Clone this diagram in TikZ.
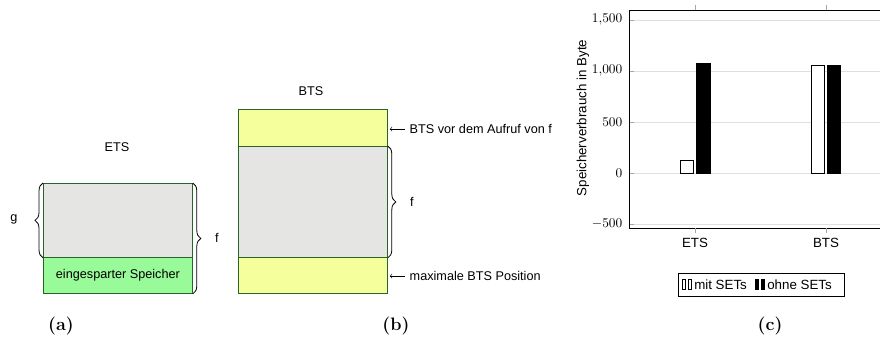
\documentclass[tikz,border=0pt]{standalone}
\usepackage{fontspec}
\setsansfont{Liberation Sans}
\usepackage{amsmath}
\usetikzlibrary{decorations.pathreplacing}

\definecolor{memline}{RGB}{40,100,40}
\definecolor{memgray}{RGB}{229,230,227}
\definecolor{memgreen}{RGB}{153,250,153}
\definecolor{memyellow}{RGB}{245,255,156}

\tikzset{
  memblock/.style={draw=memline, line width=0.6pt, inner sep=0pt, anchor=north west, minimum width=111.75pt},
  frameblock/.style={memblock, fill=memgray},
  freeblock/.style={memblock, fill=memgreen},
  btsblock/.style={memblock, fill=memyellow},
  lbl/.style={font=\sffamily\fontsize{9.5}{11}\selectfont},
  chartlbl/.style={font=\sffamily},
  membrace/.style={decorate, decoration={brace, amplitude=6pt}, line width=0.6pt},
  gridline/.style={gray!25, line width=0.6pt},
  tickmark/.style={gray!70, line width=0.5pt},
  barmit/.style={draw=black, fill=white, line width=0.6pt},
  barohne/.style={draw=black, fill=black, line width=0.6pt},
  subcap/.style={font=\bfseries\fontsize{13.5}{15}\selectfont}
}

\begin{document}
\begin{tikzpicture}[x=0.75pt, y=0.75pt]
\useasboundingbox (0,0) rectangle (880,-336);

% (a) ETS
\node (etsTitle) [lbl] at (117,-147) {ETS};
\node (etsGray) [frameblock, minimum height=55.5pt] at (43,-183) {};
\node (etsFree) [freeblock, minimum height=27pt, lbl] at (43,-257) {eingesparter Speicher};
\draw [membrace] (etsGray.south west) -- (etsGray.north west);
\node (gLbl) [lbl] at (14,-219) {g};
\draw [membrace] (etsGray.north east) -- (etsFree.south east);
\node (fLbl) [lbl] at (217,-238) {f};

% (b) BTS
\node (btsTitle) [lbl] at (311,-91) {BTS};
\node (btsTop) [btsblock, minimum height=27.75pt] at (238,-109) {};
\node (btsGray) [frameblock, minimum height=83.25pt] at (238,-146) {};
\node (btsBottom) [btsblock, minimum height=27pt] at (238,-257) {};
\node (vorLbl) [lbl, anchor=west] at (405,-129) {BTS vor dem Aufruf von f};
\draw [->, shorten >=1.5pt] (vorLbl.west) -- (vorLbl.west -| btsTop.east);
\node (maxLbl) [lbl, anchor=west] at (405,-276) {maximale BTS Position};
\draw [->, shorten >=1.5pt] (maxLbl.west) -- (maxLbl.west -| btsBottom.east);
\draw [membrace] (btsGray.north east) -- (btsGray.south east);
\node (fLblB) [lbl] at (412,-202) {f};

% (c) Speicherverbrauch
\begin{scope}[shift={(0,-173)}, y=0.0765pt]
\foreach \v/\t in {-500/{$-500$}, 0/{$0$}, 500/{$500$}, 1000/{$1{,}000$}, 1500/{$1{,}500$}} {
  \draw [gridline] (629,\v) -- (880,\v);
  \draw [tickmark] (629,\v) -- (634,\v);
  \node (ytick\v) [anchor=east] at (627,\v) {\t};
}
\draw [black, line width=0.6pt] (880,1598) -- (629,1598) -- (629,-539) -- (880,-539);
\foreach \x/\n in {695/ETS, 826/BTS} {
  \draw [tickmark] (\x,1598) -- (\x,1650);
  \draw [tickmark] (\x,-539) -- (\x,-590);
  \node (xtick\n) [chartlbl] at (\x,-686) {\n};
}
% Balken
\draw [barmit] (680,0) rectangle (693,120);
\draw [barohne] (696,0) rectangle (710,1070);
\draw [barmit] (811,0) rectangle (824,1050);
\draw [barohne] (827,0) rectangle (840,1050);
\node (ylabel) [chartlbl, rotate=90] at (583,539) {Speicherverbrauch in Byte};
\end{scope}

% Legende
\draw [black, line width=0.6pt] (678,-273) rectangle (844,-296);
\draw [barmit, line width=0.5pt] (682,-279) rectangle (685,-289);
\draw [barmit, line width=0.5pt] (688,-279) rectangle (691,-289);
\node (legMit) [chartlbl, anchor=west, inner sep=0pt] at (694,-284.5) {mit SETs};
\draw [barohne, line width=0.5pt] (755,-279) rectangle (758,-289);
\draw [barohne, line width=0.5pt] (761,-279) rectangle (764,-289);
\node (legOhne) [chartlbl, anchor=west, inner sep=0pt] at (767,-284.5) {ohne SETs};

% Unterschriften
\node (capA) [subcap] at (61,-326) {(a)};
\node (capB) [subcap] at (396,-326) {(b)};
\node (capC) [subcap] at (770,-326) {(c)};
\end{tikzpicture}
\end{document}
